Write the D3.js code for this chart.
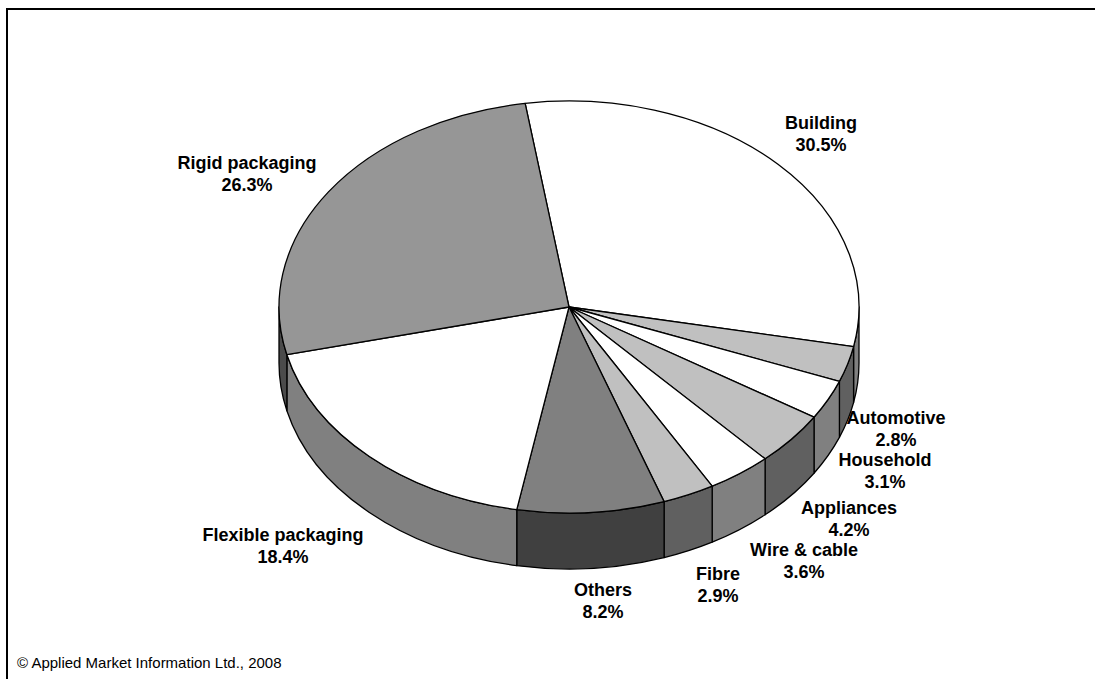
<!DOCTYPE html>
<html><head><meta charset="utf-8">
<script src="https://cdn.jsdelivr.net/npm/d3@7"></script>
<style>html,body{margin:0;padding:0;background:#fff}svg{display:block}
text{font-family:"Liberation Sans",Arial,sans-serif;fill:#000}</style>
</head><body><svg id="c" width="1095" height="679"></svg>
<script>
const categories=["Building","Automotive","Household","Appliances","Wire & cable","Fibre","Others","Flexible packaging","Rigid packaging"];
const values=[30.5,2.8,3.1,4.2,3.6,2.9,8.2,18.4,26.3];
const topColors=["#ffffff","#c0c0c0","#ffffff","#c0c0c0","#ffffff","#c0c0c0","#808080","#ffffff","#969696"];
const sideColors=["#808080","#606060","#808080","#606060","#808080","#606060","#404040","#808080","#4b4b4b"];
const labelX=[821,896,885,849,804,718,603,283,247];
const labelY=[123,418,460,508,550,574,590,535,163];
const footer="© Applied Market Information Ltd., 2008";

const W=1095,H=679,cx=569,cy=307,rx=290,ry=206,depth=56,lineH=22;
const rad=d3.scaleLinear().domain([0,360]).range([0,2*Math.PI]);
const start=rad(-8.7);
const svg=d3.select("#c");
svg.append("path").attr("d",`M7,${H}V9H${W}`).attr("fill","none").attr("stroke","#000").attr("stroke-width",2);

const arcs=d3.pie().sort(null).startAngle(start).endAngle(start+2*Math.PI)(values);
const px=a=>cx+rx*Math.sin(a), py=a=>cy-ry*Math.cos(a);

const lo=Math.PI/2, hi=3*Math.PI/2;
svg.append("g").selectAll("path").data(arcs.filter(d=>d.endAngle>lo&&d.startAngle<hi)).join("path")
  .attr("d",d=>{
    const a=Math.max(d.startAngle,lo),b=Math.min(d.endAngle,hi);
    const large=(b-a)>Math.PI?1:0;
    return `M${px(a)},${py(a)}A${rx},${ry} 0 ${large} 1 ${px(b)},${py(b)}`+
           `V${py(b)+depth}A${rx},${ry} 0 ${large} 0 ${px(a)},${py(a)+depth}Z`;
  })
  .attr("fill",d=>sideColors[d.index]).attr("stroke","#000").attr("stroke-width",1.3).attr("stroke-linejoin","round");

const arc=d3.arc().innerRadius(0).outerRadius(rx);
svg.append("g").attr("transform",`translate(${cx},${cy}) scale(1,${ry/rx})`)
  .selectAll("path").data(arcs).join("path")
  .attr("d",arc).attr("fill",d=>topColors[d.index])
  .attr("stroke","#000").attr("stroke-width",1.3).attr("stroke-linejoin","round")
  .attr("vector-effect","non-scaling-stroke");

const lab=svg.append("g").attr("font-size",18).attr("font-weight","bold").attr("text-anchor","middle");
categories.forEach((c,i)=>{
  lab.append("text").attr("x",labelX[i]).attr("y",labelY[i]).attr("dy","0.35em").text(c);
  lab.append("text").attr("x",labelX[i]).attr("y",labelY[i]+lineH).attr("dy","0.35em").text(values[i].toFixed(1)+"%");
});
svg.append("text").attr("x",17).attr("y",668).attr("font-size",15).text(footer);
</script></body></html>
